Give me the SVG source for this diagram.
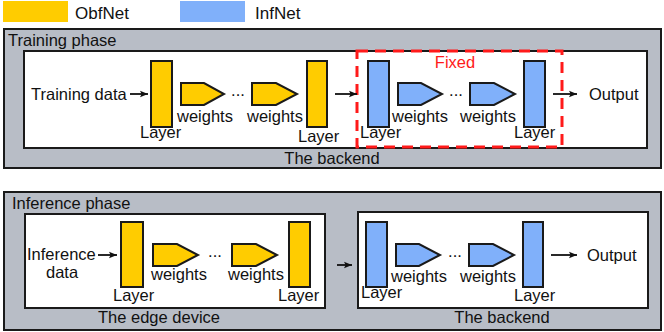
<svg xmlns="http://www.w3.org/2000/svg" width="664" height="332" viewBox="0 0 664 332">
<defs>
<style>
text{font-family:"Liberation Sans",Arial,sans-serif;font-size:16.5px;fill:#111}
.outer{fill:#b8bdc6;stroke:#1a1a1a;stroke-width:2}
.inner{fill:#fff;stroke:#1a1a1a;stroke-width:2}
.obf{fill:#ffcc00;stroke:#1a1a1a;stroke-width:2}
.inf{fill:#80b0fa;stroke:#1a1a1a;stroke-width:2}
.arr{stroke:#111;stroke-width:1.8;fill:none;marker-end:url(#ah)}
.fixed{fill:none;stroke:#ff1a1a;stroke-width:3;stroke-dasharray:11 7}
.mid{text-anchor:middle}
</style>
<marker id="ah" viewBox="0 0 10 10" refX="10" refY="5" markerWidth="8" markerHeight="8" markerUnits="userSpaceOnUse" orient="auto">
<path d="M0,1 L10,5 L0,9 L2,5 Z" fill="#111"/>
</marker>
</defs>

<g id="legend">
<rect x="3" y="1" width="65" height="21" fill="#ffcc00"/>
<text x="75" y="19" style="font-size:17px">ObfNet</text>
<rect x="180" y="1" width="65" height="21" fill="#80b0fa"/>
<text x="255" y="19" style="font-size:17px">InfNet</text>
</g>

<g id="training-phase">
<rect class="outer" x="4" y="29" width="657" height="139"/>
<text x="8" y="46">Training phase</text>
<rect class="inner" x="24" y="51" width="623" height="97"/>
<text class="mid" x="332" y="164">The backend</text>
<text x="31" y="100">Training data</text>
</g>

<g id="train-obf">
<rect class="obf" x="151" y="61" width="21" height="66"/>
<text x="140" y="138">Layer</text>
<polygon class="obf" points="181,83 204,83 224,94 204,105 181,105"/>
<text x="177" y="122">weights</text>
<text class="mid" x="238" y="96">...</text>
<polygon class="obf" points="252,83 276,83 297,94 276,105 252,105"/>
<text x="247" y="122">weights</text>
<rect class="obf" x="307" y="61" width="20" height="66"/>
<text x="298" y="142">Layer</text>
</g>

<g id="train-inf">
<rect class="inf" x="368" y="61" width="21" height="66"/>
<text x="360" y="138">Layer</text>
<polygon class="inf" points="398,83 421,83 442,94 421,105 398,105"/>
<text x="392" y="122">weights</text>
<text class="mid" x="456" y="96">...</text>
<polygon class="inf" points="470,83 494,83 515,94 494,105 470,105"/>
<text x="460" y="122">weights</text>
<rect class="inf" x="524" y="61" width="21" height="66"/>
<text x="514" y="138">Layer</text>
<text x="589" y="100">Output</text>
</g>

<g id="fixed">
<rect class="fixed" x="357" y="51" width="205" height="96"/>
<text class="mid" x="455" y="68" style="fill:#ff1a1a">Fixed</text>
</g>

<g id="inference-phase">
<rect class="outer" x="4" y="192" width="657" height="138"/>
<text x="12" y="209">Inference phase</text>
<rect class="inner" x="25" y="214" width="300" height="94"/>
<rect class="inner" x="358" y="212" width="290" height="96"/>
<text class="mid" x="159" y="323">The edge device</text>
<text class="mid" x="502" y="323">The backend</text>
<text x="27" y="260">Inference</text>
<text x="46" y="278">data</text>
</g>

<g id="inf-obf">
<rect class="obf" x="121" y="222" width="22" height="65"/>
<text x="113" y="301">Layer</text>
<polygon class="obf" points="153,244 177,244 198,255 177,266 153,266"/>
<text x="151" y="280">weights</text>
<text class="mid" x="215" y="257">...</text>
<polygon class="obf" points="232,244 256,244 277,255 256,266 232,266"/>
<text x="228" y="280">weights</text>
<rect class="obf" x="289" y="222" width="21" height="65"/>
<text x="278" y="301">Layer</text>
</g>

<g id="inf-inf">
<rect class="inf" x="366" y="222" width="21" height="65"/>
<text x="361" y="298">Layer</text>
<polygon class="inf" points="396,244 419,244 440,255 419,266 396,266"/>
<text x="391" y="282">weights</text>
<text class="mid" x="455" y="257">...</text>
<polygon class="inf" points="469,244 493,244 514,255 493,266 469,266"/>
<text x="460" y="282">weights</text>
<rect class="inf" x="523" y="222" width="20" height="65"/>
<text x="514" y="301">Layer</text>
<text x="587" y="261">Output</text>
</g>

<g id="connectors">
<line class="arr" x1="130" y1="94" x2="148" y2="94"/>
<line class="arr" x1="335" y1="94" x2="357" y2="94"/>
<line class="arr" x1="553" y1="94" x2="577" y2="94"/>
<line class="arr" x1="98" y1="255" x2="117" y2="255"/>
<line class="arr" x1="337" y1="265" x2="352" y2="265"/>
<line class="arr" x1="551" y1="255" x2="577" y2="255"/>
</g>
</svg>
